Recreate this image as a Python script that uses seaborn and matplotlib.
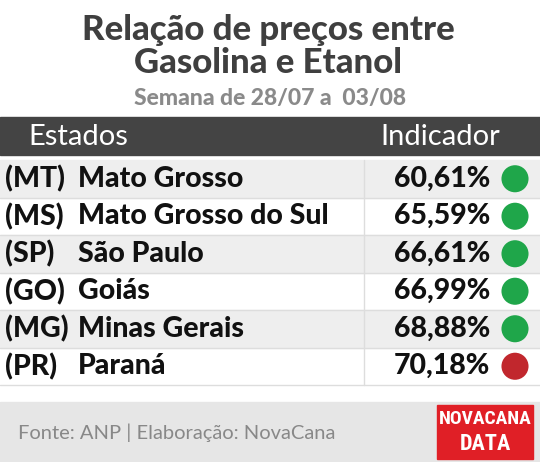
import matplotlib
matplotlib.use("Agg")
import matplotlib.pyplot as plt
import seaborn as sns
import pandas as pd
from matplotlib.patches import Rectangle

codes = ["(MT)", "(MS)", "(SP)", "(GO)", "(MG)", "(PR)"]
states = ["Mato Grosso", "Mato Grosso do Sul", "São Paulo", "Goiás", "Minas Gerais", "Paraná"]
values = [60.61, 65.59, 66.61, 66.99, 68.88, 70.18]
status = ["ok", "ok", "ok", "ok", "ok", "bad"]

sns.set_theme(style="white")
plt.rcParams['font.family'] = ['Lato', 'DejaVu Sans']

fig = plt.figure(figsize=(5.4, 4.62), dpi=100)
ax = fig.add_axes([0, 0, 1, 1])
ax.set_xlim(0, 540); ax.set_ylim(462, 0); ax.axis("off")

dark = "#3f3f3f"
ax.text(268, 30, "Relação de preços entre", ha="center", va="center", fontsize=25, weight="black", color=dark)
ax.text(268, 63, "Gasolina e Etanol", ha="center", va="center", fontsize=25, weight="black", color=dark)
ax.text(270, 98, "Semana de 28/07 a  03/08", ha="center", va="center", fontsize=16.5, weight="black", color="#8a8a8a")

ax.add_patch(Rectangle((0, 117), 540, 38, color="#444444"))
ax.text(28, 137, "Estados", va="center", fontsize=21, color="white")
ax.text(500, 137, "Indicador", ha="right", va="center", fontsize=21, color="white")

row_h = 37.5
y0 = 160
ys = []
for i in range(len(codes)):
    top = y0 + i * row_h
    if i % 2 == 0:
        ax.add_patch(Rectangle((0, top), 540, row_h, color="#eeeeee"))
    ax.plot([0, 540], [top + row_h, top + row_h], color="#dddddd", lw=1)
    yc = top + row_h / 2
    ys.append(yc)
    ax.text(5, yc, codes[i], va="center", fontsize=20.5, weight="black", color="#111111")
    ax.text(78, yc, states[i], va="center", fontsize=20.5, weight="black", color="#111111")
    ax.text(490, yc, f"{values[i]:.2f}%".replace(".", ","), ha="right", va="center",
            fontsize=20.5, weight="black", color="#111111")
ax.plot([364, 364], [y0, y0 + 6 * row_h], color="#dddddd", lw=1)

df = pd.DataFrame({"x": [515] * len(codes), "y": ys, "s": status})
sns.scatterplot(data=df, x="x", y="y", hue="s", palette={"ok": "#1fa64a", "bad": "#c1272d"},
                s=380, edgecolor="none", legend=False, ax=ax)
ax.set_xlim(0, 540); ax.set_ylim(462, 0)

ax.add_patch(Rectangle((0, 402), 540, 60, color="#e6e6e6"))
ax.text(18, 433, "Fonte: ANP | Elaboração: NovaCana", va="center", fontsize=14.5, color="#888888")
ax.add_patch(Rectangle((437, 405), 96, 54, color="#e01f26"))
ax.text(485, 419, "NOVACANA", ha="center", va="center", fontsize=14, weight="heavy", color="white",
        family=["Roboto Condensed", "Liberation Sans Narrow", "DejaVu Sans"])
ax.text(485, 444, "DATA", ha="center", va="center", fontsize=16, weight="heavy", color="white",
        family=["Roboto Condensed", "Liberation Sans Narrow", "DejaVu Sans"])

fig.savefig("out.png", dpi=100)
